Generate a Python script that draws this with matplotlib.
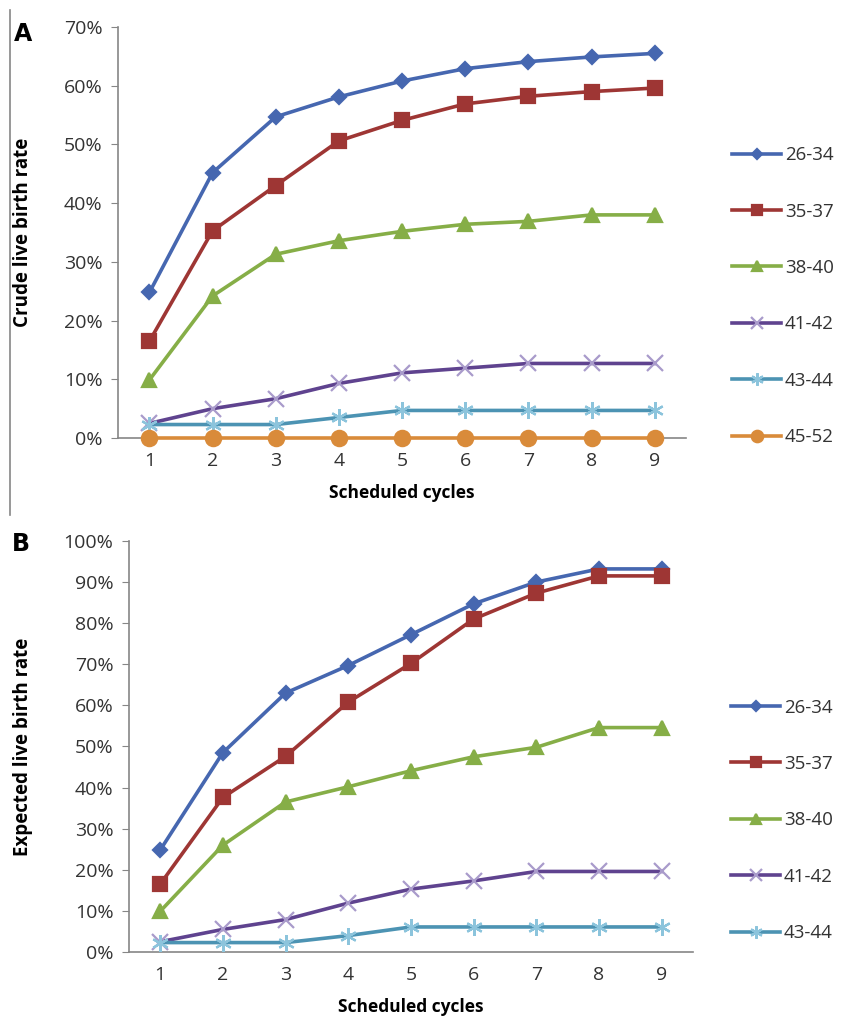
import numpy as np
import matplotlib
matplotlib.use('Agg')
from matplotlib import pyplot as plt
from matplotlib.ticker import PercentFormatter

plt.rcParams['font.family'] = ['Open Sans', 'DejaVu Sans']

cycles = np.arange(1, 10)

# Panel A: crude live birth rate (%)
crude = {
    '26-34': [24.8, 45.2, 54.7, 58.1, 60.8, 62.9, 64.1, 64.9, 65.5],
    '35-37': [16.5, 35.3, 43.0, 50.6, 54.1, 56.9, 58.2, 59.0, 59.6],
    '38-40': [9.9, 24.2, 31.3, 33.6, 35.2, 36.4, 36.9, 38.0, 38.0],
    '41-42': [2.5, 5.0, 6.7, 9.3, 11.1, 11.9, 12.7, 12.7, 12.7],
    '43-44': [2.3, 2.3, 2.3, 3.5, 4.7, 4.7, 4.7, 4.7, 4.7],
    '45-52': [0, 0, 0, 0, 0, 0, 0, 0, 0],
}

# Panel B: expected live birth rate (%)
expected = {
    '26-34': [24.8, 48.5, 63.0, 69.7, 77.2, 84.7, 90.0, 93.2, 93.2],
    '35-37': [16.5, 37.6, 47.6, 60.8, 70.2, 81.0, 87.3, 91.5, 91.5],
    '38-40': [9.9, 26.0, 36.5, 40.2, 44.1, 47.5, 49.8, 54.6, 54.6],
    '41-42': [2.5, 5.5, 7.9, 11.9, 15.3, 17.3, 19.6, 19.6, 19.6],
    '43-44': [2.3, 2.3, 2.3, 4.0, 6.1, 6.1, 6.1, 6.1, 6.1],
}

# line colour, marker, marker size, marker edge colour
style = {
    '26-34': ('#4667B0', 'D', 7, '#4667B0'),
    '35-37': ('#9E3634', 's', 10, '#9E3634'),
    '38-40': ('#86AE47', '^', 10, '#86AE47'),
    '41-42': ('#5F438F', 'x', 11, '#A99BCB'),
    '43-44': ('#4C93B3', (6, 2, 0), 12, '#8CC4DC'),
    '45-52': ('#D98B3A', 'o', 11, '#D98B3A'),
}

grey = '#868686'
txt = '#333333'

fig = plt.figure(figsize=(8.42, 10.18), dpi=100)
axA = fig.add_axes([0.140, 0.5697, 0.675, 0.4038])
axB = fig.add_axes([0.153, 0.0648, 0.670, 0.4038])


def draw(ax, data, ymax, ylabel, legend_x, legend_y):
    for name, vals in data.items():
        c, m, ms, mec = style[name]
        ax.plot(cycles, vals, color=c, lw=2.6, marker=m, ms=ms,
                mfc=c, mec=mec, mew=1.6, label=name, clip_on=False, zorder=3)
    ax.set_xlim(0.5, 9.5)
    ax.set_ylim(0, ymax)
    ax.set_xticks(cycles)
    ax.set_yticks(np.arange(0, ymax + 1, 10))
    ax.yaxis.set_major_formatter(PercentFormatter(decimals=0))
    for s in ['top', 'right']:
        ax.spines[s].set_visible(False)
    for s in ['left', 'bottom']:
        ax.spines[s].set_color(grey)
        ax.spines[s].set_linewidth(1.2)
    ax.tick_params(axis='y', length=5, color=grey, labelsize=14, labelcolor=txt, pad=6)
    ax.tick_params(axis='x', length=0, labelsize=14, labelcolor=txt, pad=10)
    ax.set_xlabel('Scheduled cycles', fontsize=12.5, fontweight='bold', labelpad=10)
    ax.set_ylabel(ylabel, fontsize=13.5, fontweight='bold', labelpad=22)
    ax.legend(loc='center left', bbox_to_anchor=(legend_x, legend_y), frameon=False,
              fontsize=13.5, labelspacing=2.05, handlelength=2.6, handletextpad=0.2,
              borderpad=0, borderaxespad=0, markerscale=0.75, labelcolor=txt)


draw(axA, crude, 70, 'Crude live birth rate', 1.081, 0.345)
draw(axB, expected, 100, 'Expected live birth rate', 1.068, 0.32)

fig.text(0.017, 0.967, 'A', fontsize=17, fontweight='bold', va='center', family='DejaVu Sans')
fig.text(0.014, 0.466, 'B', fontsize=17, fontweight='bold', va='center', family='DejaVu Sans')
fig.add_artist(plt.Line2D([0.012, 0.012], [0.494, 0.99], color=grey, lw=1.2))

plt.savefig('out.png', dpi=100)
plt.close()
